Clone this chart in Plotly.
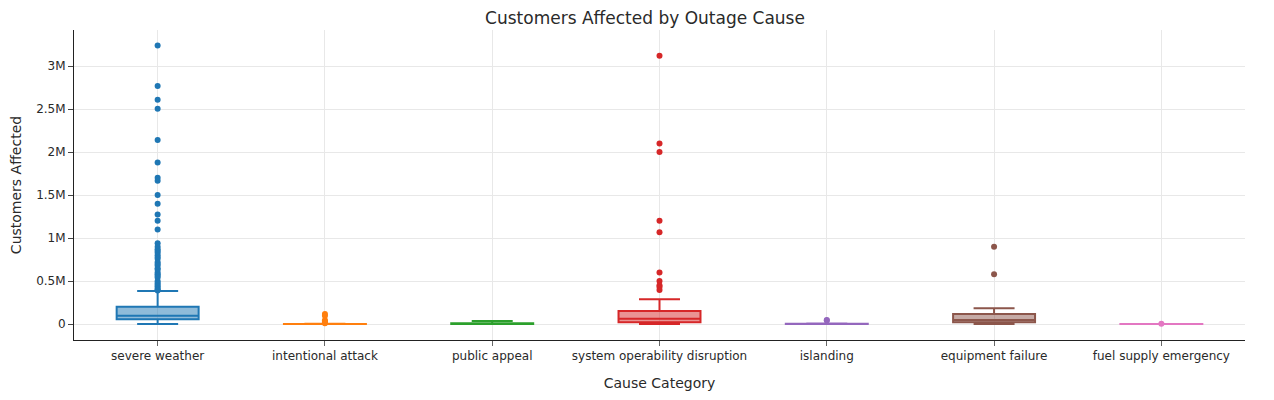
import plotly.graph_objects as go

# Box statistics per cause category (customers affected)
categories = ["severe weather", "intentional attack", "public appeal",
              "system operability disruption", "islanding",
              "equipment failure", "fuel supply emergency"]
colors = ["#1f77b4", "#ff7f0e", "#2ca02c", "#d62728", "#9467bd", "#8c564b", "#e377c2"]

q1 = [55000, 0, 0, 20000, 0, 20000, 0]
median = [97000, 0, 1000, 60000, 1000, 47000, 0]
q3 = [201000, 1500, 10000, 151000, 3000, 116000, 500]
lowerfence = [0, 0, 0, 0, 0, 0, 0]
upperfence = [384000, 3500, 35000, 287000, 7000, 182000, 1000]

# outliers
outliers = {
    "severe weather": [
        3240000, 2770000, 2610000, 2505000, 2140000, 1880000, 1700000, 1665000,
        1500000, 1400000, 1275000, 1200000, 1100000, 940000, 900000, 870000,
        850000, 830000, 800000, 780000, 760000, 720000, 700000, 680000, 650000,
        630000, 600000, 580000, 560000, 540000, 500000, 480000, 460000, 440000,
        420000, 400000, 390000,
    ],
    "intentional attack": [116000, 95000, 45000, 30000, 15000, 8000],
    "public appeal": [],
    "system operability disruption": [
        3120000, 2100000, 2000000, 1200000, 1066000, 600000, 500000, 450000, 430000, 395000,
    ],
    "islanding": [47000, 40000],
    "equipment failure": [900000, 580000],
    "fuel supply emergency": [2000],
}

fig = go.Figure()

for i, cat in enumerate(categories):
    fig.add_trace(go.Box(
        x=[cat], q1=[q1[i]], median=[median[i]], q3=[q3[i]],
        lowerfence=[lowerfence[i]], upperfence=[upperfence[i]],
        name=cat, marker_color=colors[i], line=dict(width=2),
        showlegend=False,
    ))
    pts = outliers[cat]
    if pts:
        fig.add_trace(go.Scatter(
            x=[cat] * len(pts), y=pts, mode="markers",
            marker=dict(color=colors[i], size=6),
            showlegend=False, hoverinfo="y",
        ))

fig.update_layout(
    width=1274, height=400,
    template="plotly_white",
    font=dict(family="DejaVu Sans", size=12, color="#2a2a2a"),
    title=dict(text="Customers Affected by Outage Cause", x=0.5, xanchor="center",
               yref="container", y=0.99, yanchor="top", pad=dict(t=0),
               font=dict(size=17)),
    boxmode="overlay",
    margin=dict(l=66, r=37, t=22, b=68, autoexpand=False),
    plot_bgcolor="white",
)
fig.update_xaxes(
    title_text="Cause Category", title_font=dict(size=14),
    showline=True, linecolor="#222", linewidth=1,
    ticks="outside", tickcolor="#666", ticklen=5,
    showgrid=True, gridcolor="#e8e8e8", automargin=False,
    categoryorder="array", categoryarray=categories,
)
fig.update_yaxes(
    title_text="Customers Affected", title_font=dict(size=14),
    showline=True, linecolor="#222", linewidth=1,
    ticks="outside", tickcolor="#444", ticklen=5,
    showgrid=True, gridcolor="#e8e8e8", zeroline=False, automargin=False,
    range=[-186000, 3420000], dtick=500000,
)

fig.write_html("out.html")
